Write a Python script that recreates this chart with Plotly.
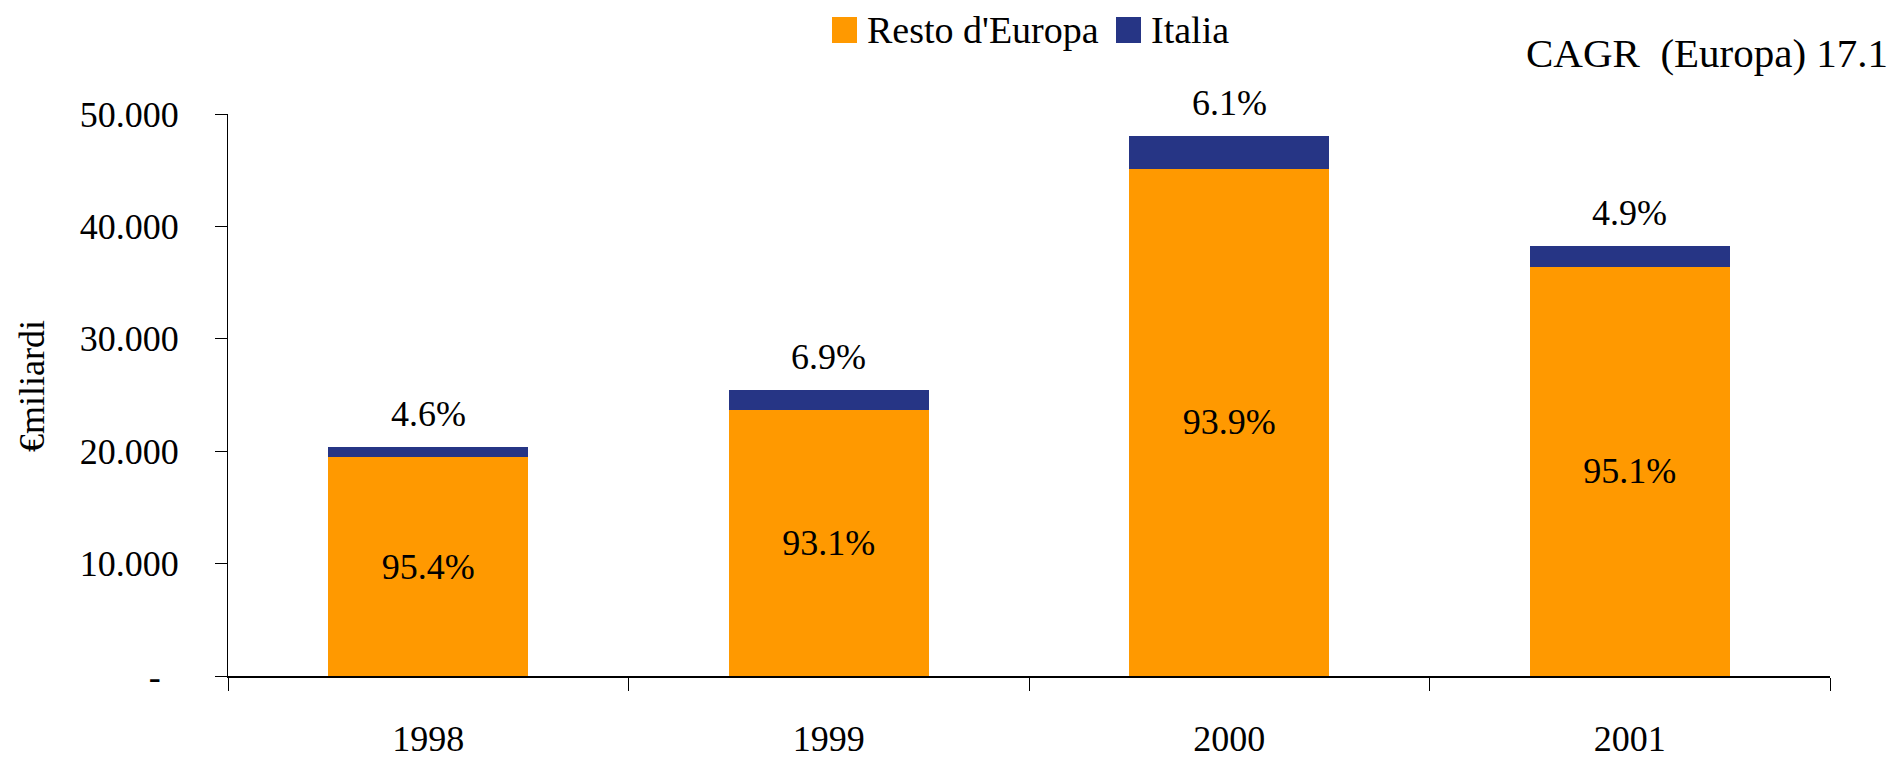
import plotly.graph_objects as go

years = ["1998", "1999", "2000", "2001"]
resto = [19440, 23690, 45110, 36400]
italia = [940, 1760, 2930, 1880]
resto_pct = ["95.4%", "93.1%", "93.9%", "95.1%"]
italia_pct = ["4.6%", "6.9%", "6.1%", "4.9%"]
y_tickvals = [0, 10000, 20000, 30000, 40000, 50000]
y_ticktext = ["-\u00a0\u00a0", "10.000", "20.000", "30.000", "40.000", "50.000"]
series_names = ["Resto d'Europa", "Italia"]
series_colors = ["#FF9900", "#263585"]

FONT = "Liberation Serif"
FS = 36
W, H = 1893, 758
L, R, T, B = 228, 63, 114, 82


def px_x(p):
    return (p - L) / (W - L - R)


def px_y(p):
    return (H - B - p) / (H - T - B)


fig = go.Figure()
fig.add_trace(go.Bar(
    x=years, y=resto, name=series_names[0], showlegend=False,
    marker=dict(color=series_colors[0], line=dict(width=0)),
    text=resto_pct, textposition="inside", insidetextanchor="middle",
    textfont=dict(family=FONT, size=FS, color="black"),
    hoverinfo="x+y",
))
fig.add_trace(go.Bar(
    x=years, y=italia, name=series_names[1], showlegend=False,
    marker=dict(color=series_colors[1], line=dict(width=0)),
    hoverinfo="x+y",
))

totals = [r + i for r, i in zip(resto, italia)]
for idx, (tot, lab) in enumerate(zip(totals, italia_pct)):
    fig.add_annotation(x=idx, y=tot, text=lab, showarrow=False,
                       yanchor="middle", yshift=33,
                       font=dict(family=FONT, size=FS, color="black"))

# manual legend (large square swatches)
legend_x = [832, 1116]
for name, col, lx in zip(series_names, series_colors, legend_x):
    fig.add_shape(type="rect", xref="paper", yref="paper",
                  x0=px_x(lx), x1=px_x(lx + 25), y0=px_y(43), y1=px_y(17),
                  fillcolor=col, line=dict(width=0), layer="above")
    fig.add_annotation(xref="paper", yref="paper", x=px_x(lx + 33), y=px_y(30),
                       text=name, showarrow=False, xanchor="left", yanchor="middle",
                       font=dict(family=FONT, size=38, color="black"))

fig.add_annotation(xref="paper", yref="paper", x=px_x(1890), y=px_y(53),
                   text="CAGR\u00a0\u00a0(Europa) 17.1", showarrow=False,
                   xanchor="right", yanchor="middle",
                   font=dict(family=FONT, size=41, color="black"))

fig.add_annotation(xref="paper", yref="paper", x=px_x(32), y=px_y(386),
                   text="€miliardi", showarrow=False, textangle=-90,
                   xanchor="center", yanchor="middle",
                   font=dict(family=FONT, size=FS, color="black"))

fig.update_layout(
    barmode="stack", bargap=0.5,
    width=W, height=H,
    margin=dict(l=L, r=R, t=T, b=B, autoexpand=False),
    paper_bgcolor="white", plot_bgcolor="white",
    font=dict(family=FONT, size=FS, color="black"),
    showlegend=False,
)
fig.update_xaxes(
    type="category", range=[-0.5, len(years) - 0.5],
    showline=True, linecolor="black", linewidth=1.5,
    ticks="outside", tickson="boundaries", ticklen=13, tickcolor="black",
    ticklabelstandoff=30, showgrid=False, automargin=False,
    tickfont=dict(family=FONT, size=FS, color="black"),
)
fig.update_yaxes(
    range=[0, 50000], tickvals=y_tickvals, ticktext=y_ticktext,
    showline=True, linecolor="black", linewidth=1, ticks="outside", ticklen=12,
    tickcolor="black", showgrid=False, zeroline=False, ticklabelstandoff=29,
    automargin=False,
    tickfont=dict(family=FONT, size=FS, color="black"),
)

fig.write_html(
    "out.html",
    config={"displayModeBar": False},
    post_script="document.body.style.margin='0';document.body.style.overflow='hidden';",
)
